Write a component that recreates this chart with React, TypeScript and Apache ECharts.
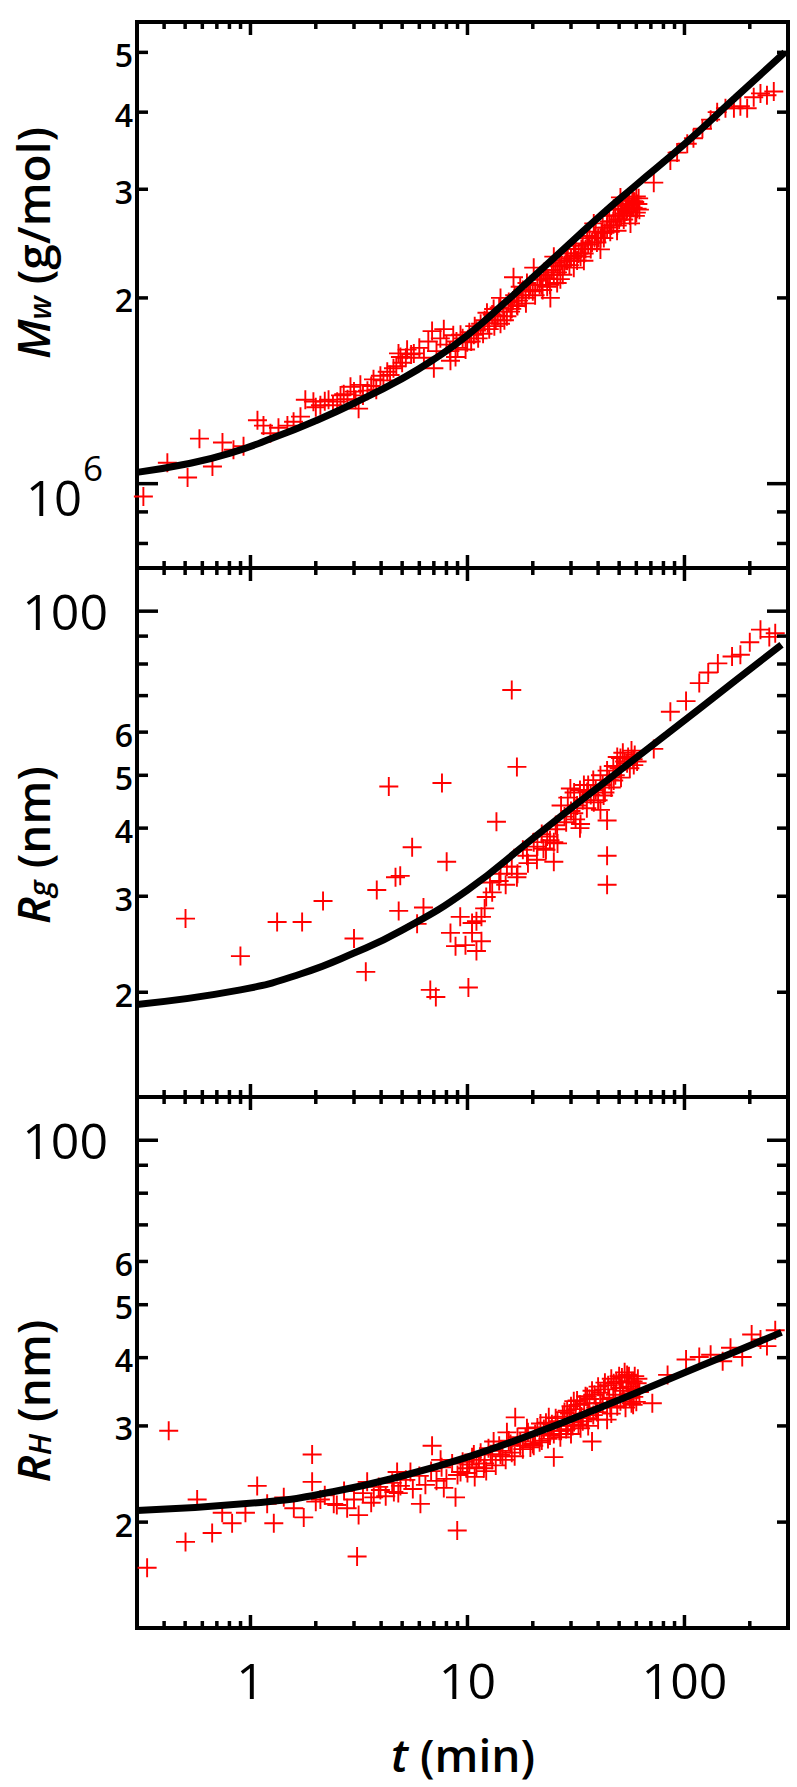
import React, { useEffect, useRef } from "react";
import * as echarts from "echarts";

const FONT = "'Open Sans', 'Noto Sans', sans-serif";
const RED = "#ff0000";

// ---------- axes ----------
const X_MIN = 0.3;
const X_MAX = 300;
const xMajorTicks = [1, 10, 100];
const xMinorTicks = [0.4, 0.5, 0.6, 0.7, 0.8, 0.9, 2, 3, 4, 5, 6, 7, 8, 9, 20, 30, 40, 50, 60, 70, 80, 90, 200];
const xTickLabels = ["1", "10", "100"];

// panel 1: Mw in units of 1e6 g/mol
const mwRange = [0.73, 5.6];
const mwMajorTicks = [1];
const mwMinorTicks = [0.8, 0.9, 2, 3, 4, 5];
const mwLabelValues = [1, 2, 3, 4, 5];
const mwLabelTexts = ["10", "2", "3", "4", "5"];
const mwLabelSup = "6";

// panels 2 and 3: nm
const rgRange = [12.85, 120];
const rhRange = [12.8, 120];
const rMajorTicks = [100];
const rMinorTicks = [20, 30, 40, 50, 60, 70, 80, 90];
const rLabelValues = [100, 60, 50, 40, 30, 20];
const rLabelTexts = ["100", "6", "5", "4", "3", "2"];

// ---------- data: [t (min), value] ----------
const mwPoints = [
  [0.321, 0.953], [0.414, 1.081], [0.513, 1.023], [0.582, 1.183], [0.668, 1.066], [0.743, 1.166], [0.835, 1.135],
  [0.929, 1.15], [1.077, 1.267], [1.148, 1.242], [1.236, 1.207], [1.346, 1.232], [1.48, 1.242], [1.58, 1.26],
  [1.7, 1.284], [1.79, 1.368], [1.95, 1.358], [2.1, 1.34], [2.29, 1.368], [2.51, 1.358], [2.69, 1.396],
  [2.89, 1.436], [3.05, 1.368], [3.15, 1.323], [3.21, 1.446], [3.46, 1.415], [3.69, 1.476], [3.97, 1.496],
  [4.27, 1.518], [4.56, 1.538], [4.81, 1.626], [2.0, 1.33], [2.2, 1.36], [2.4, 1.34], [2.6, 1.39], [2.8, 1.37],
  [3.0, 1.41], [3.3, 1.39], [3.6, 1.44], [3.8, 1.42], [4.1, 1.47], [4.4, 1.5], [4.7, 1.55], [5.0, 1.57], [5.2, 1.6],
  [4.91, 1.604], [5.27, 1.649], [5.66, 1.626], [6.87, 1.767], [7.0, 1.538], [7.78, 1.78], [8.35, 1.582],
  [8.81, 1.604], [9.29, 1.743], [9.97, 1.695], [10.7, 1.743], [11.5, 1.816], [12.3, 1.892], [13.2, 1.919],
  [14.2, 2.0], [14.2, 1.816], [15.2, 1.868], [16.3, 2.16], [16.9, 1.947], [17.5, 2.085], [18.8, 2.115],
  [20.2, 2.239], [21.7, 2.175], [23.3, 2.085], [24.1, 2.0], [25.0, 2.333], [25.9, 2.115], [26.8, 2.145],
  [28.8, 2.297], [30.9, 2.43], [30.9, 2.239], [33.2, 2.333], [34.4, 2.297], [35.6, 2.5], [38.2, 2.641],
  [41.0, 2.5], [41.0, 2.397], [44.0, 2.718], [47.2, 2.79], [48.9, 2.57], [50.7, 2.91], [54.4, 2.79],
  [56.4, 2.641], [58.4, 2.87], [59.4, 2.716], [60.5, 2.79],
  [5.5, 1.62], [6.0, 1.66], [6.3, 1.6], [6.6, 1.7], [7.2, 1.64], [7.5, 1.72], [8.0, 1.68], [8.6, 1.74],
  [9.0, 1.66], [9.5, 1.72], [10.2, 1.76], [10.8, 1.8], [11.2, 1.72], [12.0, 1.84], [12.6, 1.78], [13.0, 1.88],
  [13.5, 1.84], [14.0, 1.93], [14.6, 1.9], [15.5, 1.97], [16.0, 1.92], [16.5, 2.02], [17.2, 1.98], [18.0, 2.06],
  [18.5, 2.0], [19.5, 2.1], [20.0, 2.05], [21.0, 2.14], [22.0, 2.1], [22.5, 2.2], [23.5, 2.15], [24.5, 2.22],
  [25.5, 2.28], [26.0, 2.2], [27.0, 2.3], [28.0, 2.26], [29.0, 2.36], [30.0, 2.32], [31.5, 2.4], [32.5, 2.36],
  [34.0, 2.45], [35.0, 2.4], [36.5, 2.52], [37.5, 2.46], [39.0, 2.56], [40.0, 2.5], [42.0, 2.6], [43.0, 2.55],
  [45.0, 2.66], [46.0, 2.62], [48.0, 2.72], [50.0, 2.68], [52.0, 2.78], [53.0, 2.74], [55.0, 2.83], [57.0, 2.8],
  [59.0, 2.86], [61.0, 2.84], [62.0, 2.78], [60.0, 2.92],
  [8.3, 1.64], [8.9, 1.7], [9.8, 1.65], [10.4, 1.7], [11.0, 1.77], [11.8, 1.75], [12.4, 1.82], [13.3, 1.8],
  [13.8, 1.87], [14.8, 1.84], [15.8, 1.9], [16.2, 1.98], [17.0, 1.94], [17.8, 2.02], [18.6, 1.96], [19.2, 2.06],
  [20.5, 2.02], [21.5, 2.1], [22.2, 2.06], [23.0, 2.18], [24.0, 2.1], [25.0, 2.18], [26.5, 2.25], [27.5, 2.18],
  [28.5, 2.3], [29.5, 2.26], [31.0, 2.34], [32.0, 2.3], [33.5, 2.4], [34.5, 2.36], [36.0, 2.44], [37.0, 2.4],
  [38.5, 2.5], [39.5, 2.46], [41.5, 2.55], [42.5, 2.5], [44.0, 2.6], [45.5, 2.56], [47.0, 2.66], [49.0, 2.62],
  [51.0, 2.72], [52.5, 2.68], [54.0, 2.76], [56.0, 2.72], [58.0, 2.8], [60.0, 2.75], [61.5, 2.9], [57.5, 2.9],
  [55.5, 2.88], [53.5, 2.84], [51.5, 2.82], [49.5, 2.78],
  [72.2, 3.075], [86.1, 3.34], [92.5, 3.44], [103, 3.556], [110, 3.63], [121, 3.76], [132, 3.89], [141.5, 4.0],
  [154.5, 4.06], [169, 4.06], [181, 4.09], [194.5, 4.06], [208.5, 4.23], [224, 4.29], [240, 4.26], [258, 4.32],
];
const mwFit = [
  [0.3, 1.043], [0.5, 1.075], [0.8, 1.12], [1.3, 1.19], [2, 1.265], [3, 1.35], [5, 1.48], [7, 1.59], [10, 1.74],
  [15, 1.97], [20, 2.16], [30, 2.46], [41, 2.72], [60, 3.05], [100, 3.55], [170, 4.21], [290, 5.0],
];

const rgPoints = [
  [0.502, 27.3], [0.899, 23.3], [1.327, 26.9], [1.73, 26.9], [2.16, 29.4], [3.0, 25.1], [3.4, 21.8], [3.82, 30.8],
  [4.34, 47.7], [4.66, 32.5], [4.82, 28.2], [4.9, 32.7], [5.56, 36.9], [6.27, 28.6], [5.86, 26.7], [7.63, 48.4],
  [8.02, 34.7], [9.26, 27.5], [8.35, 25.7], [8.81, 24.3], [9.79, 24.4], [10.5, 25.7], [11.0, 23.8], [11.6, 24.8],
  [11.6, 27.5], [12.2, 29.9], [6.74, 20.2], [7.15, 19.6], [10.1, 20.4], [13.6, 41.1], [12.7, 31.8], [14.2, 33.0],
  [15.2, 34.0], [16.0, 71.7], [16.9, 51.8], [16.9, 32.5], [18.8, 35.6], [20.2, 37.7], [20.9, 35.0], [22.4, 36.7],
  [23.3, 38.6], [25.0, 37.7], [25.0, 34.7], [25.9, 39.8], [29.8, 47.3], [30.9, 42.6], [33.2, 40.7], [34.4, 48.0],
  [35.6, 46.6], [38.2, 44.6], [41.0, 43.2], [42.4, 45.9], [44.0, 41.3], [44.0, 35.6], [44.0, 31.5], [47.2, 48.9],
  [48.9, 51.8], [50.7, 53.8], [54.4, 52.6], [58.4, 52.2],
  [27, 44], [28, 42], [29, 45.5], [30, 43], [31, 46.5], [32, 44], [33, 47], [34, 45], [35.5, 43.5], [36, 48],
  [37, 46], [38, 49], [39, 47], [40, 45], [41, 50], [42, 48], [43, 46.5], [44, 51], [45, 49], [46, 47.5], [47, 52],
  [48, 50], [49, 54], [50, 51.5], [51, 49.5], [52, 55], [53, 53], [55, 54], [56, 51.5], [57, 55.5], [58, 53.5],
  [59, 54.5], [60.5, 53], [28.5, 41], [31.5, 41.5], [33, 40], [21, 37], [22, 39], [23, 36.5], [24, 38], [25.5, 40.5],
  [26, 37.5], [19, 34.5], [18, 36.5], [17, 33], [16, 34], [15, 31.5], [14, 32], [13, 30.5], [12, 28.5], [11, 27],
  [10.5, 26.8],
  [72.2, 55.9], [86.1, 65.4], [101.7, 68.4], [117, 73.8], [128.7, 77.2], [142.5, 80.2], [165.7, 82.6], [181, 83.2],
  [200, 87.7], [224, 92.5], [246, 89.7], [262, 91.1],
];
const rgFit = [
  [0.3, 19.0], [0.9, 20.2], [1.7, 21.6], [3, 23.6], [5, 26.0], [10, 30.8], [20, 38.3], [41, 47.9], [83, 59.5],
  [169, 74.2], [280, 86.8],
];

const rhPoints = [
  [0.334, 16.5], [0.42, 29.4], [0.502, 18.4], [0.568, 22.0], [0.666, 19.1], [0.741, 20.8], [0.823, 19.9],
  [0.948, 20.8], [1.074, 23.3], [1.194, 21.6], [1.281, 19.9], [1.424, 22.2], [1.584, 21.2], [1.76, 20.4],
  [1.924, 26.6], [1.924, 23.7], [2.1, 22.0], [2.42, 21.6], [2.79, 21.2], [3.1, 17.3], [3.15, 20.6], [3.45, 23.7],
  [3.7, 22.2], [3.97, 22.9], [4.74, 24.7], [4.58, 22.7], [4.91, 23.3], [5.46, 24.7], [6.07, 21.6], [6.87, 27.6],
  [7.52, 26.0], [7.78, 23.1], [8.81, 22.2], [8.97, 19.3], [9.29, 24.7], [9.97, 25.1], [10.7, 26.6], [11.9, 25.1],
  [13.2, 28.1], [14.2, 26.6], [15.2, 29.2], [16.6, 31.1], [17.5, 28.1], [18.8, 29.7], [20.2, 27.6], [21.7, 30.3],
  [23.7, 31.1], [25.0, 26.3], [26.8, 28.6], [28.8, 32.0], [30.9, 33.3], [33.2, 29.7], [35.6, 33.9], [37.5, 28.1],
  [41.0, 34.5], [44.0, 30.8], [47.2, 35.9], [50.7, 33.3], [54.4, 37.2], [58.4, 33.9], [60.5, 35.9],
  [2.0, 21.8], [2.2, 22.4], [2.5, 21.5], [2.7, 22.8], [3.0, 22.0], [3.3, 22.6], [3.6, 21.7], [3.9, 23.2],
  [4.2, 22.3], [4.5, 23.6], [4.8, 22.6], [5.2, 23.9], [5.6, 23.0], [6.0, 24.3], [6.4, 23.4], [6.8, 24.8],
  [7.2, 23.8], [7.6, 25.2], [8.0, 24.0], [8.5, 25.6], [9.0, 24.4], [9.5, 25.8], [10.0, 24.6], [10.5, 26.3],
  [11.0, 25.2], [11.5, 26.8], [12.0, 25.6], [12.5, 27.3], [13.0, 26.0], [14.0, 27.6], [14.5, 26.4], [15.5, 28.2],
  [16.0, 26.8], [17.0, 28.6], [18.0, 27.2], [19.0, 29.2], [20.0, 27.8], [21.0, 29.8], [22.0, 28.2], [23.0, 30.4],
  [24.0, 28.8], [25.5, 31.0], [26.5, 29.4], [28.0, 31.8], [29.0, 30.0], [30.0, 32.6], [31.0, 30.5], [32.0, 33.4],
  [33.5, 31.2], [35.0, 34.0], [36.0, 31.8], [37.5, 34.8], [39.0, 32.4], [40.0, 35.4], [42.0, 33.0], [43.0, 36.0],
  [45.0, 33.6], [46.0, 36.6], [48.0, 34.2], [50.0, 37.0], [52.0, 34.8], [53.0, 37.6], [55.0, 35.4], [57.0, 36.2],
  [59.0, 37.0], [61.0, 35.0], [60.0, 33.2], [58.0, 32.8], [56.0, 33.8],
  [10.2, 25.5], [10.8, 24.2], [11.3, 26.0], [12.2, 24.8], [12.8, 26.6], [13.5, 25.4], [14.2, 27.0], [15.0, 26.0],
  [15.8, 27.8], [16.5, 26.4], [17.5, 27.6], [18.5, 28.6], [19.5, 27.4], [20.5, 29.0], [21.5, 28.0], [22.5, 29.6],
  [23.5, 28.4], [24.5, 30.2], [25.0, 29.0], [26.0, 30.6], [27.0, 29.4], [27.5, 31.2], [28.5, 29.6], [29.5, 31.6],
  [30.5, 30.0], [31.5, 32.2], [32.5, 30.2], [33.0, 32.8], [34.0, 30.6], [34.5, 33.0], [35.5, 31.0], [36.5, 33.6],
  [38.0, 31.4], [38.5, 34.2], [39.5, 31.8], [41.0, 33.0], [42.5, 35.0], [44.0, 32.6], [44.5, 35.6], [45.5, 32.4],
  [47.0, 33.8], [48.5, 36.2], [49.0, 32.6], [50.5, 35.2], [51.5, 36.8], [52.5, 33.6], [54.0, 36.0], [55.5, 37.0],
  [56.5, 34.4], [58.0, 36.2], [59.5, 35.0], [61.0, 36.6], [62.0, 34.6], [57.0, 33.0], [53.5, 32.4], [46.0, 31.6],
  [40.0, 30.8], [36.0, 30.0], [30.0, 29.0],
  [71.1, 33.0], [83.6, 37.2], [101.7, 39.7], [117, 40.1], [132, 40.5], [150, 39.4], [163, 41.7], [184.6, 40.1],
  [204, 44.1], [224, 43.2], [240, 42.0], [262, 44.9],
];
const rhFit = [
  [0.3, 21.0], [1.2, 21.8], [2.4, 22.73], [4.9, 24.24], [10, 26.31], [20, 28.99], [41, 32.41], [83, 36.4],
  [169, 40.94], [280, 44.5],
];

// ---------- layout ----------
const GRID_LEFT = 137;
const GRID_WIDTH = 651;
const panels = [
  { top: 22, height: 546, range: mwRange, major: mwMajorTicks, minor: mwMinorTicks, labelValues: mwLabelValues, labelTexts: mwLabelTexts, points: mwPoints, fit: mwFit },
  { top: 568, height: 529, range: rgRange, major: rMajorTicks, minor: rMinorTicks, labelValues: rLabelValues, labelTexts: rLabelTexts, points: rgPoints, fit: rgFit },
  { top: 1097, height: 531, range: rhRange, major: rMajorTicks, minor: rMinorTicks, labelValues: rLabelValues, labelTexts: rLabelTexts, points: rhPoints, fit: rhFit },
];

const CROSS = "path://M-1,-10L1,-10L1,-1L10,-1L10,1L1,1L1,10L-1,10L-1,1L-10,1L-10,-1L-1,-1Z";

function tickSeries(i: number, p: any) {
  const [yMin, yMax] = p.range;
  const data: number[][] = [
    ...xMajorTicks.map((t) => [t, yMin, 0, 1]),
    ...xMinorTicks.map((t) => [t, yMin, 0, 0]),
    ...p.major.map((v: number) => [X_MIN, v, 1, 1]),
    ...p.minor.map((v: number) => [X_MIN, v, 1, 0]),
  ];
  return {
    type: "custom",
    xAxisIndex: i,
    yAxisIndex: i,
    z: 20,
    silent: true,
    clip: false,
    encode: { x: 0, y: 1 },
    data,
    renderItem: (_params: any, api: any) => {
      const kind = api.value(2);
      const major = api.value(3);
      const style = { stroke: "#000", lineWidth: 3.5, fill: null };
      if (kind === 0) {
        const t = api.value(0);
        const b = api.coord([t, yMin]);
        const tp = api.coord([t, yMax]);
        const len = major ? 13 : 7;
        return {
          type: "group",
          children: [
            { type: "line", shape: { x1: b[0], y1: b[1], x2: b[0], y2: b[1] - len }, style },
            { type: "line", shape: { x1: tp[0], y1: tp[1], x2: tp[0], y2: tp[1] + len }, style },
          ],
        };
      }
      const v = api.value(1);
      const l = api.coord([X_MIN, v]);
      const r = api.coord([X_MAX, v]);
      const len = major ? 21 : 11;
      return {
        type: "group",
        children: [
          { type: "line", shape: { x1: l[0], y1: l[1], x2: l[0] + len, y2: l[1] }, style },
          { type: "line", shape: { x1: r[0], y1: r[1], x2: r[0] - len, y2: r[1] }, style },
        ],
      };
    },
  };
}

function textEl(x: number, y: number, text: string, size: number, weight: any, align: string) {
  return {
    type: "text",
    x,
    y,
    style: {
      text,
      fill: "#000",
      fontSize: size,
      fontWeight: weight,
      fontFamily: FONT,
      align,
      verticalAlign: "middle",
      textAlign: align,
      textVerticalAlign: "middle",
    },
  };
}

function yLabelSeries(i: number, p: any) {
  const data = p.labelValues.map((v: number, k: number) => [X_MIN, v, k]);
  return {
    type: "custom",
    xAxisIndex: i,
    yAxisIndex: i,
    z: 20,
    silent: true,
    clip: false,
    encode: { x: 0, y: 1 },
    data,
    renderItem: (_params: any, api: any) => {
      const k = api.value(2);
      const c = api.coord([X_MIN, api.value(1)]);
      const txt = p.labelTexts[k];
      if (k === 0) {
        if (i === 0) {
          return {
            type: "group",
            children: [
              textEl(c[0] - 55, c[1] + 13, txt, 49, "normal", "right"),
              textEl(c[0] - 54, c[1] - 16, mwLabelSup, 35, "normal", "left"),
            ],
          };
        }
        return textEl(c[0] - 29, c[1], txt, 50, "normal", "right");
      }
      return textEl(c[0] - 4, c[1] + 2, txt, 32, 600, "right");
    },
  };
}

function xLabelSeries(i: number, p: any) {
  const data = xMajorTicks.map((t, k) => [t, p.range[0], k]);
  return {
    type: "custom",
    xAxisIndex: i,
    yAxisIndex: i,
    z: 20,
    silent: true,
    clip: false,
    encode: { x: 0, y: 1 },
    data,
    renderItem: (_params: any, api: any) => {
      const c = api.coord([api.value(0), api.value(1)]);
      return textEl(c[0], c[1] + 52, xTickLabels[api.value(2)], 50, "normal", "center");
    },
  };
}

function titleEl(x: number, y: number, text: string, rich: any, rotate: boolean) {
  return {
    type: "text",
    x,
    y,
    rotation: rotate ? Math.PI / 2 : 0,
    style: {
      text,
      rich,
      fill: "#000",
      align: "center",
      verticalAlign: "middle",
      textAlign: "center",
      textVerticalAlign: "middle",
    },
  };
}

const richBase = (sub: boolean) => ({
  i: { fontSize: 46, fontStyle: "italic", fontWeight: 600, fontFamily: FONT, lineHeight: 44, verticalAlign: "middle", fill: "#000" },
  s: { fontSize: 31, fontStyle: "italic", fontWeight: 600, fontFamily: FONT, lineHeight: sub ? 6 : 44, verticalAlign: "bottom", fill: "#000" },
  n: { fontSize: 46, fontWeight: 600, fontFamily: FONT, lineHeight: 44, verticalAlign: "middle", fill: "#000" },
});

export default function App() {
  const ref = useRef<HTMLDivElement>(null);
  useEffect(() => {
    if (!ref.current) return;
    const chart = echarts.init(ref.current, undefined, { renderer: "svg" });
    const grid = panels.map((p) => ({
      left: GRID_LEFT,
      width: GRID_WIDTH,
      top: p.top,
      height: p.height,
      show: true,
      borderColor: "#000",
      borderWidth: 4,
      backgroundColor: "transparent",
    }));
    const hidden = {
      axisLine: { show: false },
      axisTick: { show: false },
      axisLabel: { show: false },
      splitLine: { show: false },
    };
    const xAxis = panels.map((_p, i) => ({ type: "log", logBase: 10, gridIndex: i, min: X_MIN, max: X_MAX, ...hidden }));
    const yAxis = panels.map((p, i) => ({ type: "log", logBase: 10, gridIndex: i, min: p.range[0], max: p.range[1], ...hidden }));
    const series: any[] = [];
    panels.forEach((p, i) => {
      series.push({
        type: "scatter",
        xAxisIndex: i,
        yAxisIndex: i,
        data: p.points,
        symbol: CROSS,
        symbolSize: 19,
        itemStyle: { color: RED, opacity: 1 },
        z: 2,
        silent: true,
      });
      series.push({
        type: "line",
        xAxisIndex: i,
        yAxisIndex: i,
        data: p.fit,
        smooth: 0.5,
        showSymbol: false,
        symbol: "none",
        lineStyle: { color: "#000", width: 7 },
        z: 5,
        silent: true,
      });
      series.push(tickSeries(i, p));
      series.push(yLabelSeries(i, p));
    });
    series.push(xLabelSeries(2, panels[2]));

    chart.setOption({
      animation: false,
      backgroundColor: "#fff",
      grid,
      xAxis,
      yAxis,
      series,
      graphic: [
        titleEl(32, 243, "{i|M}{s|w}{n| (g/mol)}", richBase(true), true),
        titleEl(32, 845, "{i|R}{s|g}{n| (nm)}", richBase(true), true),
        titleEl(32, 1401, "{i|R}{s|H}{n| (nm)}", richBase(true), true),
        titleEl(463, 1754, "{i|t}{n| (min)}", richBase(false), false),
      ],
    });
    return () => chart.dispose();
  }, []);
  return <div ref={ref} style={{ position: "absolute", left: 0, top: 0, width: 797, height: 1787 }} />;
}
